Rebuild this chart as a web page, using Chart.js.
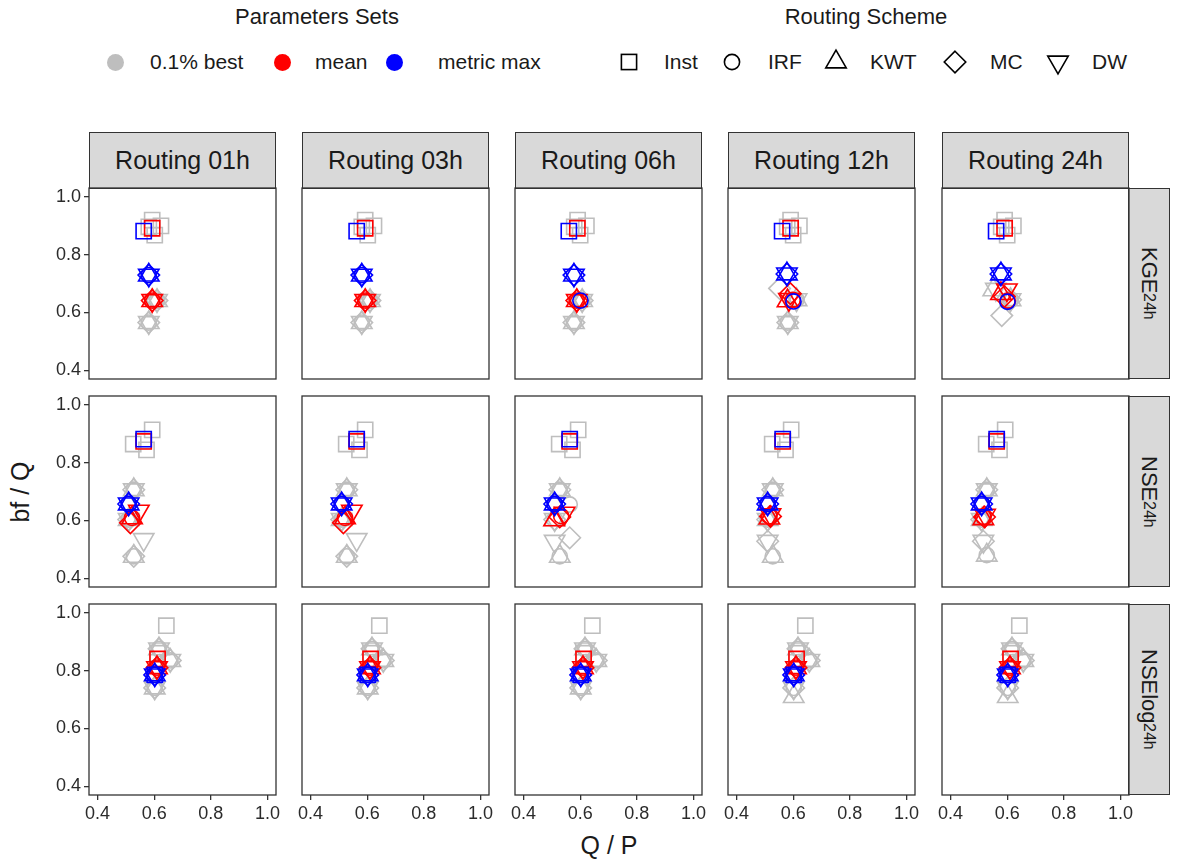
<!DOCTYPE html>
<html><head><meta charset="utf-8">
<script src="https://cdn.jsdelivr.net/npm/chart.js@4/dist/chart.umd.min.js"></script>
<style>
body{margin:0;width:1184px;height:859px;background:#fff;position:relative;overflow:hidden;font-family:"Liberation Sans",Arial,Helvetica,sans-serif;color:#1a1a1a}
.strip{position:absolute;background:#d9d9d9;border:1.3px solid #333;box-sizing:border-box;display:flex;align-items:center;justify-content:center;color:#1a1a1a}
.cstrip{font-size:25px}
.rstrip{font-size:22px;writing-mode:vertical-rl}
.rstrip sub{font-size:16px;vertical-align:sub}
.txt{position:absolute;white-space:nowrap}
canvas{position:absolute}
</style></head><body>
<script>
// ---------- categories / labels ----------
const routings = ['Routing 01h','Routing 03h','Routing 06h','Routing 12h','Routing 24h'];
const metrics = ['KGE','NSE','NSElog'];
const metricSub = '24h';
const schemes = ['Inst','IRF','KWT','MC','DW'];
const paramSets = ['0.1% best','mean','metric max'];
const tickVals = [0.4, 0.6, 0.8, 1.0];
const axisMin = 0.37, axisMax = 1.03;

// ---------- data: [routing][scheme] ----------
// KGE row
const kgeBest = [
  [[[0.593,0.919],[0.624,0.899],[0.602,0.867],[0.581,0.896]], [[0.610,0.641],[0.581,0.565]], [[0.610,0.641],[0.581,0.565]], [[0.610,0.641],[0.581,0.565]], [[0.610,0.641],[0.581,0.565]]],
  [[[0.593,0.919],[0.624,0.899],[0.602,0.867],[0.581,0.896]], [[0.610,0.641],[0.581,0.565]], [[0.610,0.641],[0.581,0.565]], [[0.610,0.641],[0.581,0.565]], [[0.610,0.641],[0.581,0.565]]],
  [[[0.591,0.919],[0.622,0.899],[0.600,0.867],[0.579,0.896]], [[0.607,0.641],[0.578,0.565]], [[0.607,0.641],[0.578,0.565]], [[0.607,0.641],[0.578,0.565]], [[0.607,0.641],[0.578,0.565]]],
  [[[0.591,0.919],[0.622,0.899],[0.600,0.867],[0.579,0.896]], [[0.612,0.644],[0.581,0.565]], [[0.612,0.644],[0.581,0.565]], [[0.552,0.683],[0.581,0.565]], [[0.612,0.644],[0.581,0.565]]],
  [[[0.591,0.919],[0.622,0.899],[0.600,0.867],[0.579,0.896]], [[0.612,0.644]], [[0.551,0.678],[0.612,0.644]], [[0.581,0.589],[0.612,0.644]], [[0.612,0.644],[0.560,0.680]]]
];
const kgeMean = [
  [[0.593,0.891],[0.593,0.641],[0.593,0.641],[0.593,0.641],[0.593,0.641]],
  [[0.593,0.891],[0.593,0.641],[0.593,0.641],[0.593,0.641],[0.593,0.641]],
  [[0.590,0.891],[0.588,0.641],[0.588,0.641],[0.588,0.641],[0.588,0.641]],
  [[0.591,0.891],[0.598,0.643],[0.580,0.640],[0.590,0.665],[0.585,0.645]],
  [[0.591,0.891],[0.602,0.641],[0.578,0.665],[0.590,0.655],[0.599,0.678]]
];
const kgeMax = [
  [[0.563,0.881],[0.581,0.729],[0.581,0.729],[0.581,0.729],[0.581,0.729]],
  [[0.563,0.881],[0.581,0.729],[0.581,0.729],[0.581,0.729],[0.581,0.729]],
  [[0.560,0.881],[0.601,0.641],[0.578,0.729],[0.578,0.729],[0.578,0.729]],
  [[0.561,0.881],[0.601,0.638],[0.578,0.733],[0.578,0.733],[0.578,0.733]],
  [[0.561,0.881],[0.601,0.637],[0.578,0.733],[0.578,0.733],[0.578,0.733]]
];
// NSE row
const nseBest = [
  [[[0.593,0.913],[0.526,0.864],[0.573,0.844],[0.563,0.875]], [[0.528,0.706],[0.510,0.603],[0.528,0.476]], [[0.528,0.706],[0.510,0.603],[0.528,0.476]], [[0.528,0.706],[0.510,0.603],[0.528,0.476]], [[0.528,0.706],[0.510,0.603],[0.563,0.534]]],
  [[[0.593,0.913],[0.526,0.864],[0.573,0.844],[0.563,0.875]], [[0.528,0.706],[0.510,0.603],[0.528,0.476]], [[0.528,0.706],[0.510,0.603],[0.528,0.476]], [[0.528,0.706],[0.510,0.603],[0.528,0.476]], [[0.528,0.706],[0.510,0.603],[0.563,0.534]]],
  [[[0.593,0.913],[0.526,0.864],[0.573,0.844],[0.563,0.875]], [[0.528,0.706],[0.563,0.655],[0.528,0.476]], [[0.528,0.706],[0.510,0.603],[0.528,0.476]], [[0.528,0.706],[0.510,0.603],[0.563,0.540]], [[0.528,0.706],[0.510,0.603],[0.510,0.528]]],
  [[[0.593,0.913],[0.526,0.864],[0.573,0.844],[0.563,0.875]], [[0.528,0.706],[0.510,0.603],[0.528,0.476]], [[0.528,0.706],[0.510,0.603],[0.528,0.476]], [[0.528,0.706],[0.510,0.603],[0.510,0.528]], [[0.528,0.706],[0.510,0.603],[0.510,0.528]]],
  [[[0.593,0.913],[0.526,0.864],[0.573,0.844],[0.563,0.875]], [[0.528,0.706],[0.510,0.603],[0.528,0.480]], [[0.528,0.706],[0.510,0.603],[0.528,0.480]], [[0.528,0.706],[0.510,0.603],[0.516,0.528]], [[0.528,0.706],[0.510,0.603],[0.516,0.528]]]
];
const nseMean = [
  [[0.563,0.873],[0.522,0.609],[0.522,0.609],[0.516,0.592],[0.546,0.632]],
  [[0.563,0.873],[0.522,0.609],[0.522,0.609],[0.516,0.592],[0.546,0.632]],
  [[0.563,0.873],[0.533,0.615],[0.508,0.602],[0.528,0.612],[0.545,0.625]],
  [[0.563,0.873],[0.516,0.614],[0.516,0.608],[0.520,0.614],[0.520,0.620]],
  [[0.563,0.873],[0.516,0.612],[0.516,0.606],[0.520,0.612],[0.522,0.618]]
];
const nseMax = [
  [[0.563,0.881],[0.510,0.657],[0.510,0.657],[0.510,0.657],[0.510,0.657]],
  [[0.563,0.881],[0.510,0.657],[0.510,0.657],[0.510,0.657],[0.510,0.657]],
  [[0.563,0.881],[0.510,0.657],[0.510,0.657],[0.510,0.657],[0.510,0.657]],
  [[0.563,0.881],[0.510,0.657],[0.510,0.657],[0.510,0.657],[0.510,0.657]],
  [[0.563,0.881],[0.510,0.657],[0.510,0.657],[0.510,0.657],[0.510,0.657]]
];
// NSElog row
const nselogBest = [
  [[[0.643,0.955],[0.612,0.860]], [[0.617,0.875],[0.657,0.835],[0.602,0.740]], [[0.617,0.875],[0.657,0.835],[0.602,0.740]], [[0.617,0.875],[0.657,0.835],[0.602,0.740]], [[0.617,0.875],[0.657,0.835],[0.602,0.740]]],
  [[[0.643,0.955],[0.612,0.860]], [[0.617,0.875],[0.657,0.835],[0.602,0.740]], [[0.617,0.875],[0.657,0.835],[0.602,0.740]], [[0.617,0.875],[0.657,0.835],[0.602,0.740]], [[0.617,0.875],[0.657,0.835],[0.602,0.740]]],
  [[[0.643,0.955],[0.612,0.860]], [[0.617,0.875],[0.657,0.835],[0.602,0.740]], [[0.617,0.875],[0.657,0.835],[0.602,0.740]], [[0.617,0.875],[0.657,0.835],[0.602,0.740]], [[0.617,0.875],[0.657,0.835],[0.602,0.740]]],
  [[[0.643,0.955],[0.612,0.860]], [[0.617,0.875],[0.657,0.835],[0.602,0.740]], [[0.617,0.875],[0.657,0.835],[0.602,0.710]], [[0.617,0.875],[0.657,0.835],[0.602,0.740]], [[0.617,0.875],[0.657,0.835],[0.602,0.740]]],
  [[[0.643,0.955],[0.612,0.860]], [[0.617,0.875],[0.657,0.835],[0.602,0.740]], [[0.617,0.875],[0.657,0.835],[0.602,0.710]], [[0.617,0.875],[0.657,0.835],[0.602,0.740]], [[0.617,0.875],[0.657,0.835],[0.602,0.740]]]
];
const nselogMean = [
  [[0.612,0.840],[0.610,0.810],[0.610,0.810],[0.610,0.810],[0.610,0.810]],
  [[0.612,0.840],[0.610,0.810],[0.610,0.810],[0.610,0.810],[0.610,0.810]],
  [[0.612,0.840],[0.610,0.810],[0.610,0.810],[0.610,0.810],[0.610,0.810]],
  [[0.612,0.840],[0.610,0.810],[0.610,0.810],[0.610,0.810],[0.610,0.810]],
  [[0.612,0.840],[0.610,0.810],[0.610,0.810],[0.610,0.810],[0.610,0.810]]
];
const nselogMax = [
  [[0.602,0.785],[0.602,0.785],[0.602,0.785],[0.602,0.785],[0.602,0.785]],
  [[0.602,0.785],[0.602,0.785],[0.602,0.785],[0.602,0.785],[0.602,0.785]],
  [[0.602,0.785],[0.602,0.785],[0.602,0.785],[0.602,0.785],[0.602,0.785]],
  [[0.602,0.785],[0.602,0.785],[0.602,0.785],[0.602,0.785],[0.602,0.785]],
  [[0.602,0.785],[0.602,0.785],[0.602,0.785],[0.602,0.785],[0.602,0.785]]
];

// ---------- styling & layout ----------
const FONT = '"Liberation Sans", Arial, Helvetica, sans-serif';
const setColors = ['#bebebe', '#ff0000', '#0000ff'];
const R0 = 7.6;
const shapeStyle = {
  Inst: {style:'rect',    radius: R0/Math.SQRT1_2, rot: 0},
  IRF:  {style:'circle',  radius: R0,              rot: 0},
  KWT:  {style:'triangle',radius: R0*1.555,        rot: 0},
  MC:   {style:'rectRot', radius: R0*Math.SQRT2,   rot: 0},
  DW:   {style:'triangle',radius: R0*1.555,        rot: 180}
};
const colLeft = [89, 302, 515, 728, 942];
const rowTop = [188, 396, 604];
const PW = 187, PH = 191;

const allBest = [kgeBest, nseBest, nselogBest];
const allMean = [kgeMean, nseMean, nselogMean];
const allMax = [kgeMax, nseMax, nselogMax];

const panelBorder = {
  id: 'panelBorder',
  afterDatasetsDraw(chart) {
    const {ctx, chartArea: a} = chart;
    ctx.save();
    ctx.strokeStyle = '#333333';
    ctx.lineWidth = 1.3;
    ctx.strokeRect(a.left, a.top, a.right - a.left, a.bottom - a.top);
    ctx.restore();
  }
};

function el(tag, cls, style, html) {
  const e = document.createElement(tag);
  if (cls) e.className = cls;
  if (style) e.style.cssText = style;
  if (html !== undefined) e.innerHTML = html;
  document.body.appendChild(e);
  return e;
}

// strips
routings.forEach((t, c) => el('div', 'strip cstrip', `left:${colLeft[c]}px;top:132px;width:${PW}px;height:${rowTop[0]-132+1}px;`, t));
metrics.forEach((m, r) => el('div', 'strip rstrip', `left:${colLeft[4]+PW-1}px;top:${rowTop[r]}px;width:42px;height:${PH}px;`, `${m}<sub>${metricSub}</sub>`));

// axis titles
el('div', 'txt', `left:${(colLeft[0]+colLeft[4]+PW)/2}px;top:845px;transform:translate(-50%,-50%);font-size:25px;`, 'Q / P');
el('div', 'txt', `left:20px;top:${(rowTop[0]+rowTop[2]+PH)/2}px;transform:translate(-50%,-50%) rotate(-90deg);font-size:25px;`, 'bf / Q');

// legend
el('div', 'txt', 'left:317px;top:17px;transform:translate(-50%,-50%);font-size:22px;', 'Parameters Sets');
el('div', 'txt', 'left:866px;top:17px;transform:translate(-50%,-50%);font-size:22px;', 'Routing Scheme');
const setSymX = [115, 282, 394], setLabX = [150, 315, 438];
paramSets.forEach((s, i) => {
  el('div', '', `position:absolute;left:${setSymX[i]-8.5}px;top:${62-8.5}px;width:17px;height:17px;border-radius:50%;background:${setColors[i]};`);
  el('div', 'txt', `left:${setLabX[i]}px;top:62px;transform:translateY(-50%);font-size:21px;`, s);
});
const schSymX = [629, 732, 836, 955, 1058], schLabX = [664, 768, 870, 990, 1092];
function symSVG(name) {
  const st = shapeStyle[name], c = 14, sw = 'fill="none" stroke="#000" stroke-width="1.6"';
  let inner = '';
  if (st.style === 'rect') { const h = st.radius*Math.SQRT1_2; inner = `<rect x="${c-h}" y="${c-h}" width="${2*h}" height="${2*h}" ${sw}/>`; }
  else if (st.style === 'circle') inner = `<circle cx="${c}" cy="${c}" r="${st.radius}" ${sw}/>`;
  else if (st.style === 'rectRot') { const r = st.radius; inner = `<polygon points="${c},${c-r} ${c+r},${c} ${c},${c+r} ${c-r},${c}" ${sw}/>`; }
  else { const r = st.radius, s = st.rot ? -1 : 1; inner = `<polygon points="${c},${c-s*r} ${c+0.866*r},${c+s*r/2} ${c-0.866*r},${c+s*r/2}" ${sw}/>`; }
  return `<svg width="28" height="28" viewBox="0 0 28 28">${inner}</svg>`;
}
schemes.forEach((s, i) => {
  el('div', '', `position:absolute;left:${schSymX[i]-14}px;top:${62-14}px;width:28px;height:28px;`, symSVG(s));
  el('div', 'txt', `left:${schLabX[i]}px;top:62px;transform:translateY(-50%);font-size:21px;`, s);
});

// panels
function makePanel(r, c) {
  const showY = c === 0, showX = r === 2;
  const ml = showY ? 56 : 18, mr = 18, mt = 16, mb = showX ? 38 : 16;
  const W = PW + ml + mr, H = PH + mt + mb;
  const cv = document.createElement('canvas');
  cv.width = W; cv.height = H;
  cv.style.cssText = `left:${colLeft[c]-ml}px;top:${rowTop[r]-mt}px;width:${W}px;height:${H}px;`;
  document.body.appendChild(cv);

  const datasets = [];
  const sources = [allBest[r][c], allMean[r][c].map(p => [p]), allMax[r][c].map(p => [p])];
  sources.forEach((src, s) => {
    schemes.forEach((sch, k) => {
      const st = shapeStyle[sch];
      datasets.push({
        label: paramSets[s] + ' ' + sch,
        data: src[k].map(p => ({x: p[0], y: p[1]})),
        order: 3 - s,
        showLine: false,
        pointStyle: st.style,
        pointRadius: st.radius,
        pointRotation: st.rot,
        pointBorderWidth: 1.6,
        pointBorderColor: setColors[s],
        pointBackgroundColor: 'rgba(0,0,0,0)',
        borderColor: setColors[s],
        backgroundColor: 'rgba(0,0,0,0)'
      });
    });
  });

  const tickCommon = {
    callback: v => Number(v).toFixed(1),
    font: {family: FONT, size: 18},
    color: '#2b2b2b',
    padding: 3,
    autoSkip: false,
    maxRotation: 0
  };
  const gridCommon = {display: true, drawOnChartArea: false, drawTicks: true, tickLength: 5, color: '#333333', lineWidth: 1.3};
  new Chart(cv, {
    type: 'scatter',
    data: {datasets},
    plugins: [panelBorder],
    options: {
      responsive: false, animation: false, devicePixelRatio: 1,
      layout: {autoPadding: false, padding: {left: showY ? 0 : ml, right: mr, top: mt, bottom: showX ? 0 : mb}},
      plugins: {legend: {display: false}, tooltip: {enabled: false}},
      scales: {
        x: {
          type: 'linear', min: axisMin, max: axisMax, display: showX,
          afterBuildTicks: ax => { ax.ticks = tickVals.map(v => ({value: v})); },
          afterFit: ax => { if (showX) ax.height = mb; },
          ticks: tickCommon, grid: gridCommon, border: {display: false}
        },
        y: {
          type: 'linear', min: axisMin, max: axisMax, display: showY,
          afterBuildTicks: ax => { ax.ticks = tickVals.map(v => ({value: v})); },
          afterFit: ax => { if (showY) ax.width = ml; },
          ticks: tickCommon, grid: gridCommon, border: {display: false}
        }
      }
    }
  });
}
for (let r = 0; r < 3; r++) for (let c = 0; c < 5; c++) makePanel(r, c);
</script>
</body></html>
